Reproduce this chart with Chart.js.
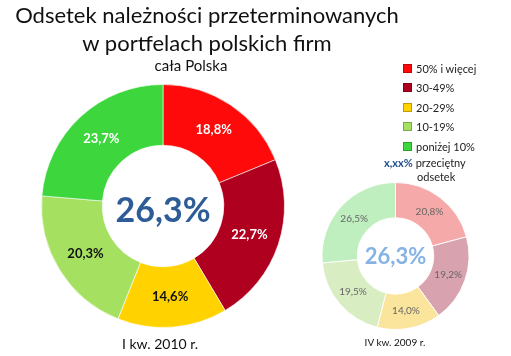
<!DOCTYPE html>
<html><head><meta charset="utf-8">
<script src="https://cdn.jsdelivr.net/npm/chart.js@4/dist/chart.umd.min.js"></script>
<style>
html,body{margin:0;padding:0;background:#fff;}
#wrap{position:relative;width:511px;height:356px;overflow:hidden;font-family:Lato,"Open Sans",sans-serif;color:#111;}
canvas{position:absolute;}
.t{position:absolute;white-space:nowrap;transform:translateX(-50%);}
.leg{position:absolute;left:403px;font-size:11px;color:#222;white-space:nowrap;}
.leg i{display:inline-block;width:7px;height:7px;margin-right:4px;vertical-align:0px;border:0.5px solid rgba(0,0,0,0.25);}
</style></head>
<body><div id="wrap">
<canvas id="c1" width="511" height="356" style="left:0;top:0"></canvas>
<canvas id="c2" width="511" height="356" style="left:0;top:0"></canvas>
<div class="t" style="left:207px;top:1px;font-size:22px;">Odsetek należności przeterminowanych</div>
<div class="t" style="left:207px;top:29px;font-size:22px;">w portfelach polskich firm</div>
<div class="t" style="left:191px;top:56px;font-size:15px;">cała Polska</div>
<div class="t" style="left:160px;top:335px;font-size:14px;">I kw. 2010 r.</div>
<div class="t" style="left:395px;top:336px;font-size:10px;">IV kw. 2009 r.</div>
<div id="legend"></div>
</div>
<script>
const categories = ["50% i więcej", "30-49%", "20-29%", "10-19%", "poniżej 10%"];
const valuesQ1_2010 = [18.8, 22.7, 14.6, 20.3, 23.7];
const valuesQ4_2009 = [20.8, 19.2, 14.0, 19.5, 26.5];
const averageQ1_2010 = "26,3%";
const averageQ4_2009 = "26,3%";
const periodLabels = ["I kw. 2010 r.", "IV kw. 2009 r."];

const mainColors = ["#ff0a0a", "#b0001f", "#ffd200", "#a6e060", "#3dd63d"];
const paleColors = ["#f6a9a9", "#d8a2ae", "#fbe49c", "#d9edc2", "#bfeebf"];
const mainLabelColors = ["#fff", "#fff", "#111", "#111", "#fff"];

const fmt = v => v.toFixed(1).replace('.', ',') + '%';

// legend (HTML)
const leg = document.getElementById('legend');
const rowsY = [62, 81, 101, 120, 140];
categories.forEach((c, i) => {
  const d = document.createElement('div');
  d.className = 'leg';
  d.style.top = rowsY[i] + 'px';
  d.innerHTML = '<i style="background:' + mainColors[i] + '"></i>' + c;
  leg.appendChild(d);
});
const a = document.createElement('div');
a.className = 'leg';
a.style.left = '384px'; a.style.top = '156px'; a.style.lineHeight = '14px';
a.innerHTML = '<b style="color:#1f4e8c;font-size:11px">x,xx%</b> przeciętny<br><span style="padding-left:33px">odsetek</span>';
leg.appendChild(a);

function labelPlugin(colors, font, centerText, centerFont, centerColor, centerDy) {
  return {
    id: 'lbl',
    afterDatasetsDraw(chart) {
      const ctx = chart.ctx;
      const meta = chart.getDatasetMeta(0);
      ctx.save();
      ctx.textAlign = 'center';
      ctx.textBaseline = 'middle';
      meta.data.forEach((arc, i) => {
        const p = arc.tooltipPosition();
        ctx.font = font;
        ctx.fillStyle = colors[i];
        ctx.fillText(fmt(chart.data.datasets[0].data[i]), p.x, p.y);
      });
      const c = meta.data[0];
      ctx.font = centerFont;
      ctx.fillStyle = centerColor;
      ctx.fillText(centerText, c.x, c.y + centerDy);
      ctx.restore();
    }
  };
}

new Chart(document.getElementById('c1'), {
  type: 'doughnut',
  data: { labels: categories, datasets: [{ data: valuesQ1_2010, backgroundColor: mainColors, borderColor: 'rgba(255,255,255,0.6)', borderWidth: 1 }] },
  options: {
    responsive: false, animation: false, cutout: '50%',
    layout: { padding: { left: 41, right: 226, top: 84, bottom: 28 } },
    plugins: { legend: { display: false }, tooltip: { enabled: false } }
  },
  plugins: [labelPlugin(mainLabelColors, 'bold 13px Lato, sans-serif', averageQ1_2010, 'bold 34px Lato, sans-serif', '#2d5c96', 5)]
});

new Chart(document.getElementById('c2'), {
  type: 'doughnut',
  data: { labels: categories, datasets: [{ data: valuesQ4_2009, backgroundColor: paleColors, borderColor: 'rgba(255,255,255,0.9)', borderWidth: 1 }] },
  options: {
    responsive: false, animation: false, cutout: '52%',
    layout: { padding: { left: 321, right: 41, top: 182, bottom: 26 } },
    plugins: { legend: { display: false }, tooltip: { enabled: false } }
  },
  plugins: [labelPlugin(['#666','#666','#666','#666','#666'], '10px Lato, sans-serif', averageQ4_2009, 'bold 22px Lato, sans-serif', '#86b3e3', 1)]
});
</script>
</body></html>
